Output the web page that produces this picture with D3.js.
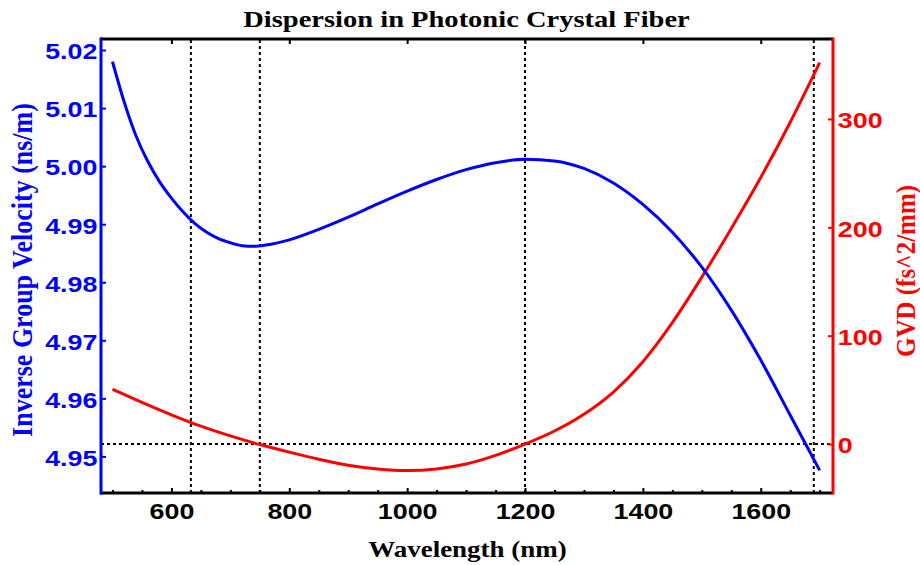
<!DOCTYPE html>
<html>
<head>
<meta charset="utf-8">
<script src="https://cdn.jsdelivr.net/npm/d3@7"></script>
<style>
  html, body { margin: 0; padding: 0; background: #fff; }
  svg { display: block; }
</style>
</head>
<body>
<svg id="chart" width="920" height="565"></svg>
<script>
// ---- data ----
const igvWavelengths = [500, 520, 540, 560, 580, 600, 620, 640, 660, 680, 700, 720, 740, 760, 800, 850, 900, 950, 1000, 1050, 1100, 1150, 1200, 1250, 1300, 1350, 1400, 1450, 1500, 1550, 1600, 1650, 1700];
const igvValues = [5.0180, 5.0110, 5.0052, 5.0008, 4.9973, 4.9945, 4.9921, 4.9901, 4.9886, 4.9875, 4.9868, 4.9863, 4.9862, 4.9864, 4.9873, 4.9891, 4.9912, 4.9935, 4.9957, 4.9977, 4.9994, 5.0006, 5.0012, 5.0009, 4.9996, 4.9971, 4.9934, 4.9886, 4.9826, 4.9752, 4.9666, 4.9571, 4.9476];
const gvdWavelengths = [500, 550, 600, 650, 700, 750, 800, 850, 900, 950, 1000, 1050, 1100, 1150, 1200, 1250, 1300, 1350, 1400, 1450, 1500, 1550, 1600, 1650, 1700];
const gvdValues = [50.5, 38.5, 27, 16.5, 7.5, -0.5, -7.5, -14, -19.5, -23, -24.5, -23, -18.5, -10.5, 0, 12, 27.5, 48, 76, 112, 154, 199, 246, 297, 352];
const xTicks = [600, 800, 1000, 1200, 1400, 1600];
const xMinorTicks = [500, 550, 650, 700, 750, 850, 900, 950, 1050, 1100, 1150, 1250, 1300, 1350, 1450, 1500, 1550, 1650, 1700];
const leftTicks = [4.95, 4.96, 4.97, 4.98, 4.99, 5.00, 5.01, 5.02];
const rightTicks = [0, 100, 200, 300];
const markerWavelengths = [633, 750, 1200, 1690];
const markerGVD = [0];

const titleText = "Dispersion in Photonic Crystal Fiber";
const xLabel = "Wavelength (nm)";
const leftLabel = "Inverse Group Velocity (ns/m)";
const rightLabel = "GVD (fs^2/mm)";

// ---- layout ----
const L = 101, R = 833, T = 39, B = 493;
const BLUE = "#0000ff", RED = "#ff0000";
const svg = d3.select("#chart");

const x = d3.scaleLinear().domain([480.5, 1722.6]).range([L, R]);
const yL = d3.scaleLinear().domain([4.9437, 5.0219]).range([B, T]);
const yR = d3.scaleLinear().domain([-45.2, 373.8]).range([B, T]);

const SANS = "'Liberation Sans', Arial, sans-serif";
const SERIF = "'Liberation Serif', 'Times New Roman', serif";
const STRETCH = 1.22;

// dotted marker lines
const dots = svg.append("g").attr("stroke", "#000").attr("stroke-width", 2)
  .attr("stroke-dasharray", "3,3").attr("fill", "none");
dots.selectAll("line.v").data(markerWavelengths).enter().append("line")
  .attr("class", "v")
  .attr("x1", d => x(d)).attr("x2", d => x(d))
  .attr("y1", B).attr("y2", T);
dots.selectAll("line.h").data(markerGVD).enter().append("line")
  .attr("class", "h")
  .attr("x1", L).attr("x2", R)
  .attr("y1", d => yR(d)).attr("y2", d => yR(d));

// curves
const igvData = igvWavelengths.map((w, i) => [w, igvValues[i]]);
const gvdData = gvdWavelengths.map((w, i) => [w, gvdValues[i]]);

svg.append("path").datum(gvdData)
  .attr("fill", "none").attr("stroke", RED).attr("stroke-width", 3)
  .attr("d", d3.line().x(d => x(d[0])).y(d => yR(d[1])).curve(d3.curveMonotoneX));
svg.append("path").datum(igvData)
  .attr("fill", "none").attr("stroke", BLUE).attr("stroke-width", 3)
  .attr("d", d3.line().x(d => x(d[0])).y(d => yL(d[1])).curve(d3.curveMonotoneX));

// axes
function styleAxis(g, color, fontSize) {
  g.select(".domain").remove();
  g.selectAll(".tick line").attr("stroke", color).attr("stroke-width", 2);
  g.selectAll(".tick text")
    .attr("fill", color)
    .style("font-family", SANS)
    .style("font-weight", "bold")
    .style("font-size", fontSize + "px");
}

// bottom minor ticks
const gxMinor = svg.append("g").attr("transform", `translate(0,${B})`)
  .call(d3.axisBottom(x).tickValues(xMinorTicks).tickSize(-3).tickFormat(""));
styleAxis(gxMinor, "#000", 22);
// bottom major ticks + labels
const gx = svg.append("g").attr("transform", `translate(0,${B})`)
  .call(d3.axisBottom(x).tickValues(xTicks).tickSize(-5).tickPadding(10).tickFormat(d3.format("d")));
styleAxis(gx, "#000", 22);
gx.selectAll(".tick text").attr("transform", `scale(${STRETCH},1)`);
// top ticks
const gxTop = svg.append("g").attr("transform", `translate(0,${T})`)
  .call(d3.axisTop(x).tickValues(xTicks).tickSize(-5).tickFormat(""));
styleAxis(gxTop, "#000", 22);

// left axis
const gyL = svg.append("g").attr("transform", `translate(${L},0)`)
  .call(d3.axisLeft(yL).tickValues(leftTicks).tickSize(-5).tickPadding(3).tickFormat(d3.format(".2f")));
styleAxis(gyL, BLUE, 22);
gyL.selectAll(".tick text").attr("transform", `scale(${STRETCH},1)`).attr("dy", "0.4em");

// right axis
const gyR = svg.append("g").attr("transform", `translate(${R},0)`)
  .call(d3.axisRight(yR).tickValues(rightTicks).tickSize(-5).tickPadding(4).tickFormat(d3.format("d")));
styleAxis(gyR, RED, 22);
gyR.selectAll(".tick text").attr("transform", `scale(${STRETCH},1)`).attr("dy", "0.4em");

// frame
svg.append("line").attr("x1", L - 1).attr("x2", R).attr("y1", T).attr("y2", T)
  .attr("stroke", "#000").attr("stroke-width", 3);
svg.append("line").attr("x1", L - 1).attr("x2", R).attr("y1", B).attr("y2", B)
  .attr("stroke", "#000").attr("stroke-width", 3);
svg.append("line").attr("x1", L).attr("x2", L).attr("y1", T - 1.5).attr("y2", B + 1.5)
  .attr("stroke", BLUE).attr("stroke-width", 3);
svg.append("line").attr("x1", R).attr("x2", R).attr("y1", T - 1.5).attr("y2", B + 1.5)
  .attr("stroke", RED).attr("stroke-width", 3);

// titles
svg.append("text")
  .attr("transform", `translate(466.5,27) scale(1.24,1)`)
  .attr("text-anchor", "middle")
  .style("font-family", SERIF).style("font-weight", "bold").style("font-size", "23px")
  .attr("fill", "#000").text(titleText);

svg.append("text")
  .attr("transform", `translate(467.5,557) scale(1.2,1)`)
  .attr("text-anchor", "middle")
  .style("font-family", SERIF).style("font-weight", "bold").style("font-size", "22.5px")
  .attr("fill", "#000").text(xLabel);

svg.append("text")
  .attr("transform", `translate(32,270) scale(1.12,1) rotate(-90)`)
  .attr("text-anchor", "middle")
  .style("font-family", SERIF).style("font-weight", "bold").style("font-size", "26px")
  .attr("fill", BLUE).text(leftLabel);

svg.append("text")
  .attr("transform", `translate(915,271) scale(1.12,1) rotate(-90)`)
  .attr("text-anchor", "middle")
  .style("font-family", SERIF).style("font-weight", "bold").style("font-size", "25px")
  .attr("fill", RED).text(rightLabel);
</script>
</body>
</html>
